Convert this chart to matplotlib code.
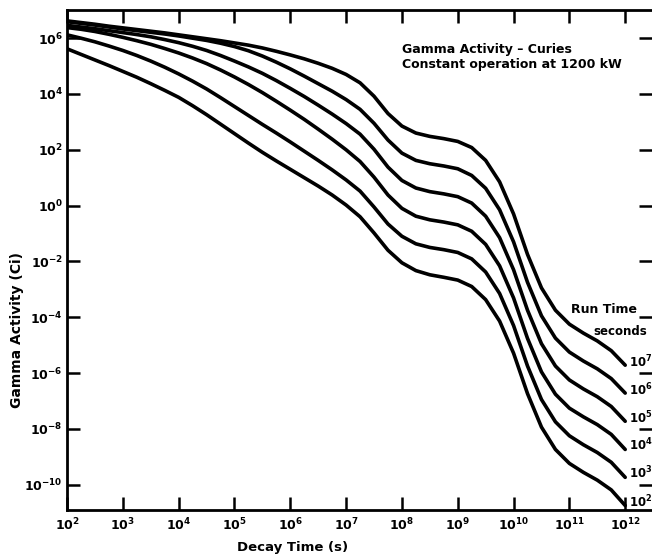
import matplotlib
matplotlib.use("Agg")
import matplotlib.pyplot as plt
import numpy as np

# decay time, log10(s)
log_t = [2.0, 2.25, 2.5, 2.75, 3.0, 3.25, 3.5, 3.75, 4.0, 4.25, 4.5, 4.75, 5.0, 5.25,
         5.5, 5.75, 6.0, 6.25, 6.5, 6.75, 7.0, 7.25, 7.5, 7.75, 8.0, 8.25, 8.5, 8.75,
         9.0, 9.25, 9.5, 9.75, 10.0, 10.25, 10.5, 10.75, 11.0, 11.25, 11.5, 11.75, 12.0]

# gamma activity, log10(Ci), one list per run time
act_1e7 = [6.62, 6.56, 6.50, 6.43, 6.37, 6.31, 6.25, 6.19, 6.12, 6.05, 5.98, 5.91, 5.83, 5.75,
           5.65, 5.53, 5.40, 5.26, 5.10, 4.92, 4.70, 4.40, 3.92, 3.30, 2.85, 2.60, 2.48, 2.40,
           2.30, 2.08, 1.62, 0.85, -0.30, -1.75, -2.95, -3.75, -4.25, -4.57, -4.85, -5.20, -5.72]
act_1e6 = [6.59, 6.53, 6.47, 6.40, 6.33, 6.27, 6.21, 6.15, 6.08, 6.00, 5.92, 5.82, 5.70, 5.55,
           5.36, 5.14, 4.90, 4.64, 4.37, 4.10, 3.80, 3.45, 2.95, 2.35, 1.88, 1.62, 1.50, 1.42,
           1.32, 1.08, 0.62, -0.15, -1.30, -2.75, -3.95, -4.75, -5.25, -5.57, -5.85, -6.20, -6.72]
act_1e5 = [6.46, 6.40, 6.34, 6.27, 6.20, 6.13, 6.05, 5.95, 5.84, 5.71, 5.56, 5.38, 5.18, 4.97,
           4.74, 4.48, 4.20, 3.91, 3.60, 3.28, 2.94, 2.56, 2.02, 1.38, 0.90, 0.63, 0.50, 0.42,
           0.32, 0.09, -0.38, -1.15, -2.30, -3.75, -4.95, -5.75, -6.25, -6.57, -6.85, -7.20, -7.73]
act_1e4 = [6.38, 6.32, 6.24, 6.14, 6.03, 5.91, 5.78, 5.63, 5.47, 5.29, 5.09, 4.86, 4.61, 4.34,
           4.05, 3.74, 3.42, 3.09, 2.74, 2.38, 2.00, 1.58, 1.02, 0.38, -0.10, -0.38, -0.51, -0.59,
           -0.69, -0.92, -1.39, -2.16, -3.31, -4.76, -5.96, -6.76, -7.26, -7.57, -7.85, -8.20, -8.74]
act_1e3 = [6.12, 6.00, 5.87, 5.72, 5.56, 5.38, 5.18, 4.96, 4.72, 4.46, 4.18, 3.87, 3.55, 3.23,
           2.91, 2.60, 2.28, 1.95, 1.62, 1.28, 0.92, 0.52, -0.05, -0.66, -1.10, -1.37, -1.50, -1.58,
           -1.68, -1.91, -2.38, -3.15, -4.30, -5.75, -6.95, -7.75, -8.25, -8.57, -8.85, -9.20, -9.74]
act_1e2 = [5.62, 5.42, 5.22, 5.02, 4.81, 4.60, 4.37, 4.13, 3.88, 3.58, 3.26, 2.92, 2.58, 2.24,
           1.91, 1.60, 1.30, 1.00, 0.70, 0.38, 0.02, -0.40, -0.98, -1.60, -2.05, -2.33, -2.48, -2.57,
           -2.67, -2.90, -3.37, -4.14, -5.29, -6.74, -7.94, -8.74, -9.24, -9.56, -9.84, -10.19, -10.75]

curves = [act_1e7, act_1e6, act_1e5, act_1e4, act_1e3, act_1e2]
run_labels = ["$10^{7}$", "$10^{6}$", "$10^{5}$", "$10^{4}$", "$10^{3}$", "$10^{2}$"]
label_y = [-5.60, -6.61, -7.61, -8.58, -9.58, -10.62]

xticks = [10.0 ** e for e in range(2, 13)]
xtick_labels = ["$10^{%d}$" % e for e in range(2, 13)]
yticks = [10.0 ** e for e in range(-10, 7, 2)]
ytick_labels = ["$10^{%d}$" % e for e in range(-10, 7, 2)]

plt.rcParams["font.family"] = "DejaVu Sans"
plt.rcParams["font.weight"] = "bold"
plt.rcParams["mathtext.default"] = "regular"

fig = plt.figure(figsize=(6.52, 5.59), dpi=100)
ax = fig.add_axes([67 / 652, 49 / 559, 585 / 652, 500 / 559])

t = 10.0 ** np.array(log_t)
for vals in curves:
    ax.plot(t, 10.0 ** np.array(vals), color="black", lw=2.6,
            solid_joinstyle="round", solid_capstyle="round")

for lab, yv in zip(run_labels, label_y):
    ax.text(10 ** 12.06, 10 ** yv, lab, fontsize=8.5, ha="left", va="center")

ax.text(10 ** 12.21, 10 ** -3.74, "Run Time", fontsize=9, ha="right", va="center")
ax.text(10 ** 12.39, 10 ** -4.53, "seconds", fontsize=8.5, ha="right", va="center")
ax.text(10 ** 8.0, 10 ** 5.58, "Gamma Activity \u2013 Curies", fontsize=9, ha="left", va="center")
ax.text(10 ** 8.0, 10 ** 5.04, "Constant operation at 1200 kW", fontsize=9, ha="left", va="center")

ax.set_xscale("log")
ax.set_yscale("log")
ax.set_xlim(10 ** 2.0, 10 ** 12.48)
ax.set_ylim(10 ** -10.91, 10 ** 7.01)
ax.set_xticks(xticks)
ax.set_xticklabels(xtick_labels, fontsize=9)
ax.set_yticks(yticks)
ax.set_yticklabels(ytick_labels, fontsize=9)
ax.minorticks_off()
ax.tick_params(axis="both", direction="in", length=9.5, width=1.8,
               top=True, right=True, labelright=False, labeltop=False)
ax.tick_params(axis="x", pad=5)
ax.tick_params(axis="y", pad=3)

for side in ["left", "bottom", "top"]:
    ax.spines[side].set_linewidth(2.0)
ax.spines["right"].set_visible(False)

fig.text(17 / 652, 1 - 330 / 559, "Gamma Activity (Ci)", rotation=90,
         fontsize=10, ha="center", va="center")
fig.text(293 / 652, 1 - 548 / 559, "Decay Time (s)", fontsize=9.5, ha="center", va="center")

fig.savefig("out.png", dpi=100)
